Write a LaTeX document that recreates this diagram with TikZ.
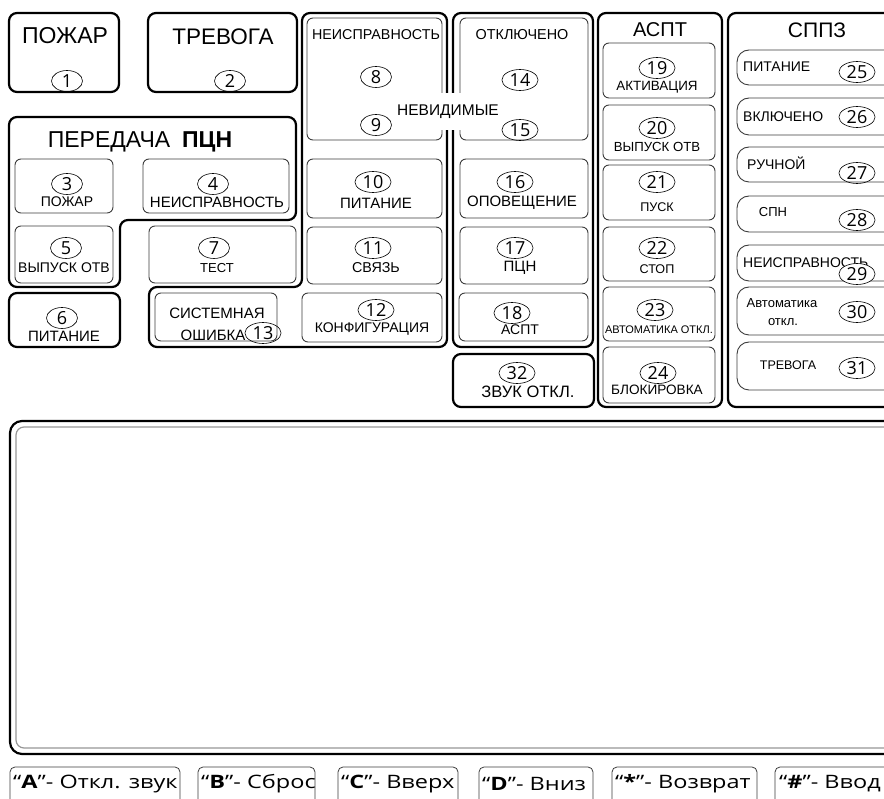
\documentclass[tikz,border=0pt]{standalone}
\usepackage{fontspec}
\setmainfont{Liberation Sans}
\newfontfamily\chiffres{Open Sans}
\newfontfamily\clavier[FakeStretch=1.27]{Open Sans}
\usetikzlibrary{shapes.geometric}
\definecolor{trait}{RGB}{60,60,60}
\definecolor{ecran}{RGB}{150,150,150}
\newcommand{\taille}[1]{\fontsize{#1}{#1}\selectfont}

\tikzset{
  cadre/.style={draw=black, line width=2.2pt, rounded corners=8pt},
  bouton/.style={draw=trait, line width=0.9pt, rounded corners=6pt},
  voyant/.style={draw=trait, line width=0.9pt, rounded corners=12pt},
  touche/.style={draw=trait, line width=0.8pt, rounded corners=5pt},
  num/.style={ellipse, draw=black, line width=0.6pt, minimum width=31pt, minimum height=21pt,
    inner xsep=2.5pt, inner ysep=0.5pt, font=\chiffres\taille{18}},
  lbl/.style={inner sep=0pt, font=\taille{14}},
  legende/.style={anchor=west, inner sep=0pt, font=\clavier\taille{18.5}},
}

\begin{document}
\begin{tikzpicture}[x=1pt, y=-1pt]
	\useasboundingbox (0,0) rectangle (884,799);
	\clip (0,0) rectangle (884,799);

	% cadres
	\draw[cadre] (9,13) rectangle (119,92);
	\draw[cadre] (148,13) rectangle (297,92);
	\draw[cadre] (9,117) -- (296,117) -- (296,220) -- (120,220) -- (120,287) -- (9,287) -- cycle;
	\draw[cadre] (9,293) rectangle (120,347);
	\draw[cadre] (302,13) -- (447,13) -- (447,347) -- (149,347) -- (149,287) -- (302,287) -- cycle;
	\draw[cadre] (453,13) rectangle (593,347);
	\draw[cadre] (453,354) rectangle (594,407);
	\draw[cadre] (598,13) rectangle (722,407);
	\draw[cadre] (728,13) rectangle (900,407);

	% boutons
	\foreach \xa/\ya/\xb/\yb in {15/159/113/213, 143/159/289/213, 15/226/113/283, 149/226/296/283,
		307/18/442/140, 307/159/442/218, 307/227/442/284, 302/293/442/342, 155/293/277/341,
		460/18/588/140, 460/159/588/218, 460/227/588/284, 459/293/588/341,
		603/43/715/98, 603/105/715/160, 603/165/715/220, 603/227/715/281, 603/287/715/341, 603/347/715/403} {
		\draw[bouton] (\xa,\ya) rectangle (\xb,\yb);
	}
	\foreach \ya/\yb in {50/85, 98/135, 147/182, 196/232, 245/281, 287/335, 342/390} {
		\draw[voyant] (737,\ya) rectangle (900,\yb);
	}

	% ecran
	\draw[black, line width=2.2pt, rounded corners=12pt] (10,421) rectangle (900,754);
	\draw[ecran, line width=1.2pt, rounded corners=8pt] (16,427) rectangle (900,748);

	% textes
	\node[lbl, font=\taille{23}] (pozhar) at (65,36) {ПОЖАР};
	\node[lbl, font=\taille{22.5}] (trevoga) at (223,37) {ТРЕВОГА};
	\node[lbl, font=\taille{23}] (peredacha) at (140,142) {ПЕРЕДАЧА\hspace{12pt}\textbf{ПЦН}};
	\node[lbl] (t3) at (67,202) {ПОЖАР};
	\node[lbl, font=\taille{15}] (t4) at (217,202) {НЕИСПРАВНОСТЬ};
	\node[lbl] (t5) at (64,268) {ВЫПУСК ОТВ};
	\node[lbl, font=\taille{13}] (t7) at (217,268) {ТЕСТ};
	\node[lbl, font=\taille{15}] (t6) at (64,336) {ПИТАНИЕ};
	\node[lbl, font=\taille{14.3}] (t8) at (376,35) {НЕИСПРАВНОСТЬ};
	\node[lbl, font=\taille{15}] (t10) at (376,203) {ПИТАНИЕ};
	\node[lbl, font=\taille{14.3}] (t11) at (376,268) {СВЯЗЬ};
	\node[lbl] (t12) at (372,329) {КОНФИГУРАЦИЯ};
	\node[lbl, font=\taille{15}] (t13a) at (217,313) {СИСТЕМНАЯ};
	\node[lbl, font=\taille{15}] (t13b) at (213,335) {ОШИБКА};
	\node[lbl, font=\taille{14.4}] (t14) at (522,35) {ОТКЛЮЧЕНО};
	\node[lbl, font=\taille{15}] (t16) at (522,203) {ОПОВЕЩЕНИЕ};
	\node[lbl, font=\taille{15}] (t17) at (520,268) {ПЦН};
	\node[lbl] (t18) at (520,330) {АСПТ};
	\node[lbl, font=\taille{16.5}] (t32) at (528,392) {ЗВУК ОТКЛ.};
	\node[lbl, font=\taille{20}] (aspt) at (660,30) {АСПТ};
	\node[lbl, font=\taille{21}] (sppz) at (817,30) {СППЗ};
	\node[lbl, font=\taille{13.4}] (t19) at (657,87) {АКТИВАЦИЯ};
	\node[lbl, font=\taille{13.2}] (t20) at (657,147) {ВЫПУСК ОТВ};
	\node[lbl, font=\taille{12.6}] (t21) at (657,207) {ПУСК};
	\node[lbl, font=\taille{12.6}] (t22) at (657,269) {СТОП};
	\node[lbl, font=\taille{11}] (t23) at (659,330) {АВТОМАТИКА ОТКЛ.};
	\node[lbl, font=\taille{13.6}] (t24) at (657,390) {БЛОКИРОВКА};
	\node[lbl, anchor=west] (t25) at (743,67) {ПИТАНИЕ};
	\node[lbl, anchor=west] (t26) at (743,117) {ВКЛЮЧЕНО};
	\node[lbl, anchor=west] (t27) at (747,163) {РУЧНОЙ};
	\node[lbl, font=\taille{13}] (t28) at (773,212) {СПН};
	\node[lbl, anchor=west] (t29) at (743,263) {НЕИСПРАВНОСТЬ};
	\node[lbl, font=\taille{13}] (t30a) at (782,303) {Автоматика};
	\node[lbl, font=\taille{13}] (t30b) at (783,322) {откл.};
	\node[lbl, font=\taille{12.5}] (t31) at (788,365) {ТРЕВОГА};
	\node[lbl, font=\taille{15.5}, fill=white, inner xsep=2pt, minimum height=37pt] (invis) at (448,112) {НЕВИДИМЫЕ};

	% numeros
	\foreach \n/\x/\y in {1/67/81, 2/230/81, 3/67/184, 4/213/184, 5/66/248, 7/214/248, 6/62/318,
		8/376/77, 9/376/125, 10/373/182, 11/373/248, 12/376/310, 13/263/333,
		14/520/80, 15/520/130, 16/515/182, 17/515/248, 18/512/313, 32/517/373,
		19/657/68, 20/657/128, 21/657/182, 22/657/248, 23/655/310, 24/658/373,
		25/857/72, 26/857/117, 27/857/173, 28/857/220, 30/857/312, 31/857/368} {
		\node[num] (n\n) at (\x,\y) {\n};
	}
	\node[num, fill=white] (n29) at (857,274) {29};

	% touches
	\foreach \xa/\xb in {10/180, 198/315, 338/458, 479/593, 612/757, 775/900} {
		\draw[touche] (\xa,767) rectangle (\xb,815);
	}
	\node[legende] (ka) at (13,784) {“\textbf{A}”- Откл. звук};
	\node[legende] (kb) at (201,784) {“\textbf{B}”- Сброс};
	\node[legende] (kc) at (341,784) {“\textbf{C}”- Вверх};
	\node[legende] (kd) at (482,784) {“\textbf{D}”- Вниз};
	\node[legende] (ke) at (615,784) {“\textbf{*}”- Возврат};
	\node[legende] (kf) at (779,784) {“\textbf{\#}”- Ввод};
\end{tikzpicture}
\end{document}
